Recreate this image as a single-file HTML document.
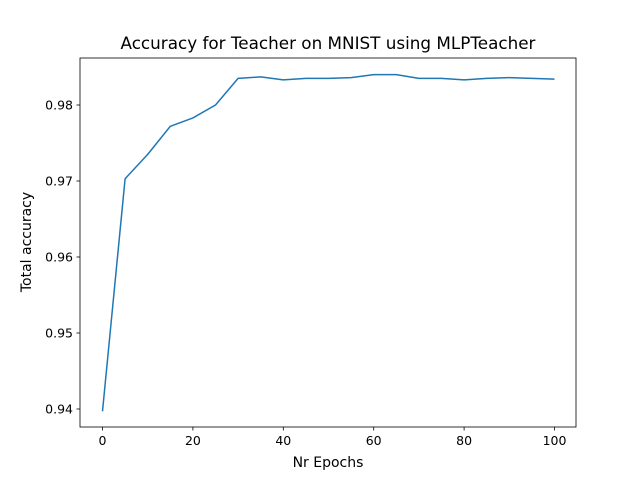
<!DOCTYPE html>
<html><head><meta charset="utf-8"><style>
body{margin:0;background:#fff;}
svg{display:block;font-family:"DejaVu Sans","Liberation Sans",sans-serif;}
</style></head><body>
<svg id="chart" width="640" height="480" viewBox="0 0 640 480">
<rect width="640" height="480" fill="#fff"/>
<text x="328" y="49" font-size="16.8" text-anchor="middle" fill="#000">Accuracy for Teacher on MNIST using MLPTeacher</text>
<g id="xticks"></g>
<g id="yticks"></g>
<polyline id="line" fill="none" stroke="#1f77b4" stroke-width="1.5" stroke-linejoin="round"/>
<rect x="80" y="58" width="496" height="369" fill="none" stroke="#000" stroke-width="0.8"/>
<text x="328" y="467" font-size="14" text-anchor="middle">Nr Epochs</text>
<text x="31" y="242" font-size="14" text-anchor="middle" transform="rotate(-90 31 242)">Total accuracy</text>
</svg>
<script>
const epochs=[0,5,10,15,20,25,30,35,40,45,50,55,60,65,70,75,80,85,90,95,100];
const accuracy=[0.9397,0.9703,0.9735,0.9772,0.9783,0.9800,0.9835,0.9837,0.9833,0.9835,0.9835,0.9836,0.9840,0.9840,0.9835,0.9835,0.9833,0.9835,0.9836,0.9835,0.9834];
const xTickValues=[0,20,40,60,80,100];
const yTickValues=[0.94,0.95,0.96,0.97,0.98];
const yTickLabels=["0.94","0.95","0.96","0.97","0.98"];

function xs(v){return 102.5+(v-0)*(554.5-102.5)/100;}
function ys(v){return 409-(v-0.94)*(409-105)/0.04;}
const NS="http://www.w3.org/2000/svg";
const xg=document.getElementById('xticks'), yg=document.getElementById('yticks');
xTickValues.forEach(v=>{
  const l=document.createElementNS(NS,'line');
  l.setAttribute('x1',xs(v));l.setAttribute('x2',xs(v));l.setAttribute('y1',427);l.setAttribute('y2',430.5);
  l.setAttribute('stroke','#000');l.setAttribute('stroke-width','0.8');
  
  
  xg.appendChild(l);
  const t=document.createElementNS(NS,'text');
  t.setAttribute('x',xs(v));t.setAttribute('y',445);t.setAttribute('font-size','12.5');t.setAttribute('text-anchor','middle');
  t.textContent=v;
  
  
  xg.appendChild(t);
});
yTickValues.forEach((v,i)=>{
  const l=document.createElementNS(NS,'line');
  l.setAttribute('x1',76.5);l.setAttribute('x2',80);l.setAttribute('y1',ys(v));l.setAttribute('y2',ys(v));
  l.setAttribute('stroke','#000');l.setAttribute('stroke-width','0.8');
  
  
  yg.appendChild(l);
  const t=document.createElementNS(NS,'text');
  t.setAttribute('x',73);t.setAttribute('y',ys(v)+4.5);t.setAttribute('font-size','12.5');t.setAttribute('text-anchor','end');
  t.textContent=yTickLabels[i];
  
  
  yg.appendChild(t);
});
document.getElementById('line').setAttribute('points',epochs.map((e,i)=>xs(e)+','+ys(accuracy[i])).join(' '));
</script>
</body></html>
